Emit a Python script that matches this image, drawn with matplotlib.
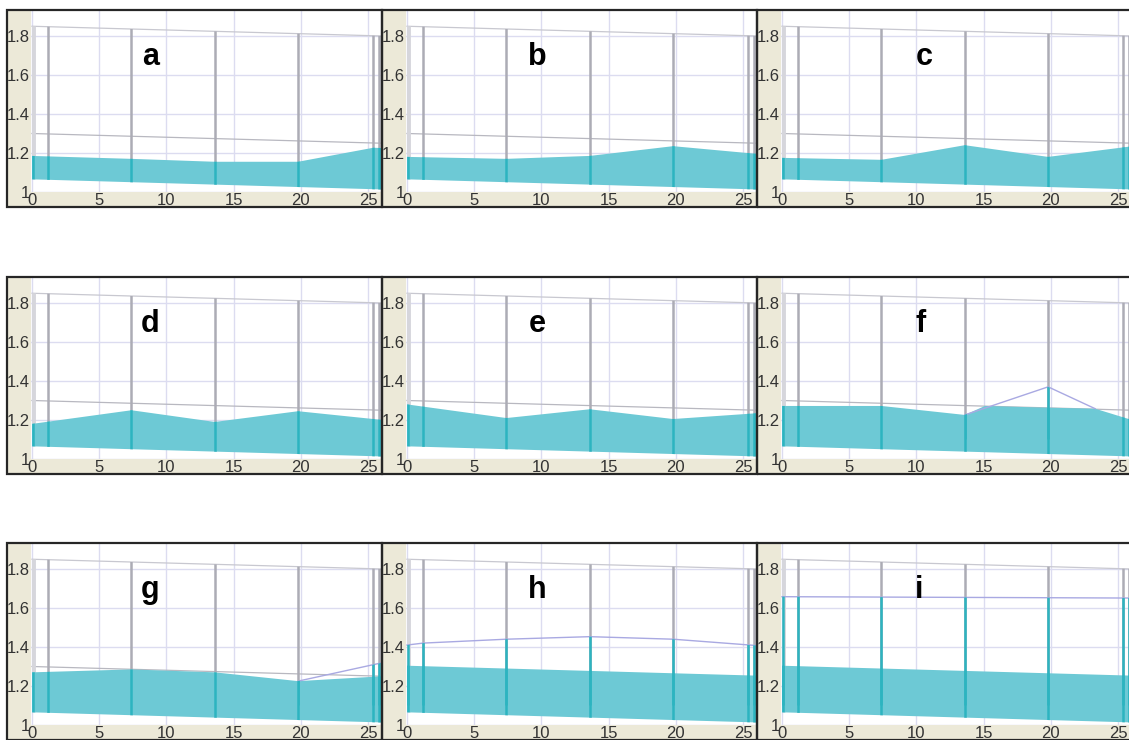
import matplotlib
matplotlib.use("Agg")
import matplotlib.pyplot as plt
from matplotlib.patches import Rectangle, Polygon

# ---------------- data ----------------
labels = ["a", "b", "c", "d", "e", "f", "g", "h", "i"]
label_x = [8.8, 9.7, 10.6, 8.8, 9.7, 10.3, 8.8, 9.7, 10.2]
label_y = 1.69

x_ticks = [0, 5, 10, 15, 20, 25]
x_tick_labels = ["0", "5", "10", "15", "20", "25"]
y_ticks = [1.0, 1.2, 1.4, 1.6, 1.8]
y_tick_labels = ["1", "1.2", "1.4", "1.6", "1.8"]

# frame geometry of the scene (shared by all panels)
rail_x = [0, 26.1]
rail_y = [1.85, 1.80]          # top rail
ceiling_x = [0, 26.1]
ceiling_y = [1.30, 1.25]       # thin grey line
base_x = [0, 26.1]
base_y = [1.065, 1.013]        # bottom edge of the band
post_x = [1.2, 7.4, 13.6, 19.8, 25.4, 25.8]

# band tops per panel
top_a_x = [0, 7.4, 13.6, 19.8, 25.4, 26.1]
top_a_y = [1.185, 1.17, 1.155, 1.155, 1.227, 1.225]
top_b_x = [0, 7.4, 13.6, 19.8, 26.1]
top_b_y = [1.18, 1.17, 1.185, 1.235, 1.195]
top_c_x = [0, 7.4, 13.6, 19.8, 26.1]
top_c_y = [1.175, 1.165, 1.24, 1.18, 1.235]
top_d_x = [0, 7.4, 13.6, 19.8, 26.1]
top_d_y = [1.18, 1.25, 1.19, 1.245, 1.20]
top_e_x = [0, 7.4, 13.6, 19.8, 26.1]
top_e_y = [1.28, 1.21, 1.255, 1.205, 1.235]
top_f_x = [0, 7.4, 13.6, 15.1, 19.8, 23.3, 25.8, 26.1]
top_f_y = [1.272, 1.272, 1.226, 1.272, 1.263, 1.258, 1.205, 1.205]
top_g_x = [0, 7.4, 13.6, 19.8, 26.1]
top_g_y = [1.27, 1.285, 1.27, 1.225, 1.25]
top_h_x = [0, 26.1]
top_h_y = [1.304, 1.253]
top_i_x = [0, 26.1]
top_i_y = [1.304, 1.253]

# upper (lavender) lines per panel
up_f_x = [13.6, 19.8, 23.3]
up_f_y = [1.226, 1.37, 1.258]
up_g_x = [19.8, 26.1]
up_g_y = [1.225, 1.32]
up_h_x = [0, 1.2, 7.4, 13.6, 19.8, 26.1]
up_h_y = [1.41, 1.42, 1.44, 1.453, 1.44, 1.407]
up_i_x = [0, 26.1]
up_i_y = [1.658, 1.651]

tops = [(top_a_x, top_a_y), (top_b_x, top_b_y), (top_c_x, top_c_y),
        (top_d_x, top_d_y), (top_e_x, top_e_y), (top_f_x, top_f_y),
        (top_g_x, top_g_y), (top_h_x, top_h_y), (top_i_x, top_i_y)]
uppers = [None, None, None, None, None, (up_f_x, up_f_y), (up_g_x, up_g_y),
          (up_h_x, up_h_y), (up_i_x, up_i_y)]
show_ceiling = [True, True, True, True, True, True, True, False, False]

# ---------------- style ----------------
W, H = 1129, 740
TAN = "#ece9d8"
FILL = "#6dc9d5"
TEAL_POST = "#2db4c0"
GREY_POST = "#acacb5"
LAV = "#a9a9e2"
GRID = "#dcdcf0"
TXT = "#333333"
PX_PER_X = 13.44
PX_PER_Y = 195.0
UP_CLIP_FLOOR = 1.1

rows_top = [10, 277, 543]
cols_left = [7, 382, 757]
panel_w, panel_h = 375, 197


def fig_rect(x, y, w, h):
    return [x / W, 1 - (y + h) / H, w / W, h / H]


fig = plt.figure(figsize=(W / 100, H / 100), dpi=100)
fig.patch.set_facecolor("white")

for k in range(9):
    r, c = divmod(k, 3)
    left, top = cols_left[c], rows_top[r]
    fig.add_artist(Rectangle((left / W, 1 - (top + panel_h) / H), panel_w / W, panel_h / H,
                             transform=fig.transFigure, facecolor=TAN,
                             edgecolor="none", zorder=-5))
    fig.add_artist(Rectangle((left / W, 1 - (top + panel_h) / H), panel_w / W, panel_h / H,
                             transform=fig.transFigure, facecolor="none",
                             edgecolor="#262626", lw=1.6, zorder=10))

    ax = fig.add_axes(fig_rect(left + 24, top + 1, 351, 181))
    ax.set_facecolor("white")
    x0 = -1 / PX_PER_X
    ax.set_xlim(x0, x0 + 351 / PX_PER_X)
    ax.set_ylim(1.0, 1.0 + 181 / PX_PER_Y)
    for s in ax.spines.values():
        s.set_visible(False)
    ax.set_xticks(x_ticks)
    ax.set_xticklabels(x_tick_labels)
    ax.set_yticks(y_ticks)
    ax.set_yticklabels(y_tick_labels)
    ax.tick_params(length=0, labelsize=12, labelcolor=TXT)
    ax.tick_params(axis="x", pad=0.5)
    ax.tick_params(axis="y", pad=1.0)
    for t in ax.get_xticklabels() + ax.get_yticklabels():
        t.set_fontfamily("Liberation Sans")
    ax.grid(True, color=GRID, lw=1.0, zorder=0)
    ax.set_axisbelow(True)

    # clip region between base line and rail
    frame_clip = Polygon([(base_x[0], base_y[0]), (base_x[1], base_y[1]),
                          (rail_x[1], rail_y[1]), (rail_x[0], rail_y[0])],
                         closed=True, transform=ax.transData)

    # rail and ceiling
    ax.plot(rail_x, rail_y, color="#c8c8d0", lw=0.9, zorder=1)
    if show_ceiling[k]:
        ax.plot(ceiling_x, ceiling_y, color="#b8b8c0", lw=0.9, zorder=1)

    # left light stripe and grey posts
    st = ax.vlines([0.06], 1.0, 1.95, color="#d6d6dc", lw=3.5, zorder=1.5)
    st.set_clip_path(frame_clip)
    gp = ax.vlines(post_x, 1.0, 1.95, color=GREY_POST, lw=1.8, zorder=2)
    gp.set_clip_path(frame_clip)

    # band
    tx, ty = tops[k]
    band_pts = list(zip(tx, ty)) + [(base_x[1], base_y[1]), (base_x[0], base_y[0])]
    band = Polygon(band_pts, closed=True, facecolor=FILL, edgecolor="none", zorder=3)
    ax.add_patch(band)
    bclip = Polygon(band_pts, closed=True, transform=ax.transData)
    tp = ax.vlines([0.06] + post_x, 1.0, 1.95, color=TEAL_POST, lw=1.8, zorder=4)
    tp.set_clip_path(bclip)

    # upper lavender line
    if uppers[k] is not None:
        ux, uy = uppers[k]
        ax.plot(ux, uy, color=LAV, lw=1.0, zorder=3.5)
        up_pts = list(zip(ux, uy)) + [(ux[-1], UP_CLIP_FLOOR), (ux[0], UP_CLIP_FLOOR)]
        uclip = Polygon(up_pts, closed=True, transform=ax.transData)
        tp2 = ax.vlines([0.06] + post_x, 1.0, 1.95, color=TEAL_POST, lw=1.8, zorder=4)
        tp2.set_clip_path(uclip)

    ax.text(label_x[k], label_y, labels[k], fontsize=22, fontweight="bold",
            family="Liberation Sans", ha="center", va="center", color="black", zorder=6)

fig.savefig("out.png", dpi=100, facecolor="white")
